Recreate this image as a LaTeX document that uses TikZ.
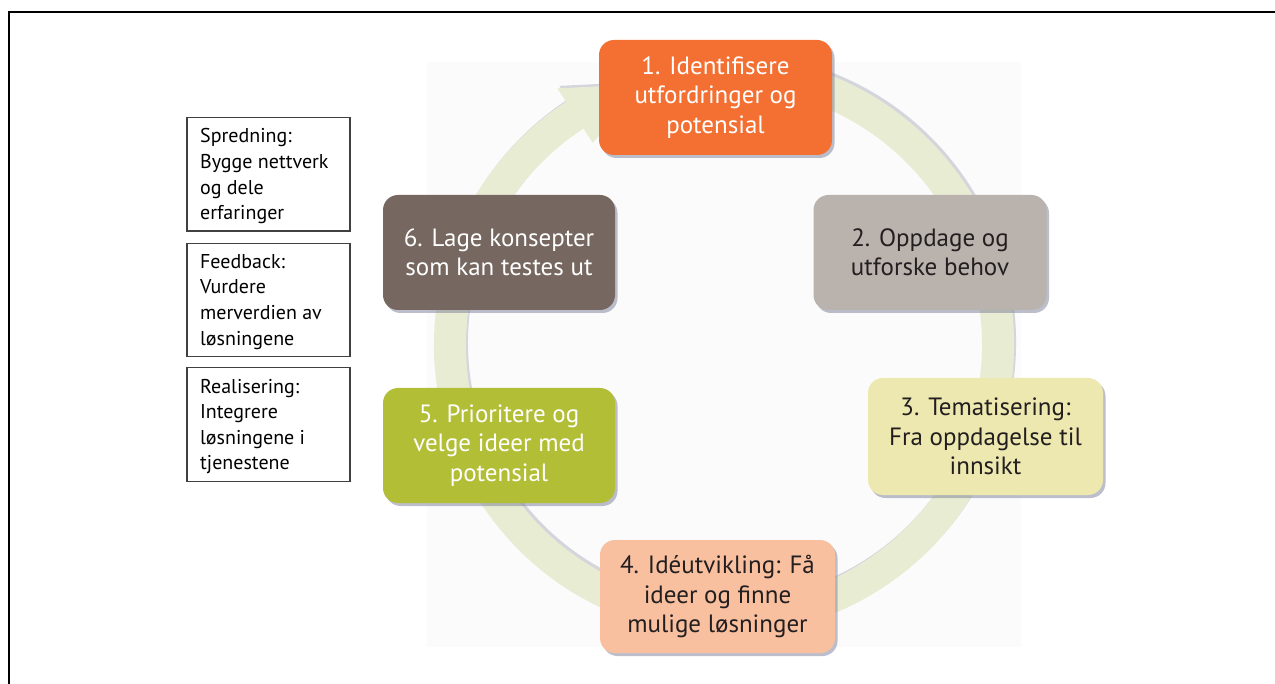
\documentclass[tikz,border=0pt]{standalone}
\usepackage{fontspec}
\setmainfont{PT Sans}
\usetikzlibrary{shadows}
\definecolor{cOne}{HTML}{F37032}
\definecolor{cTwo}{HTML}{BAB2AC}
\definecolor{cThree}{HTML}{EDE8AF}
\definecolor{cFour}{HTML}{F9C0A0}
\definecolor{cFive}{HTML}{B2BE35}
\definecolor{cSix}{HTML}{766860}
\definecolor{cRing}{HTML}{E8ECD2}
\definecolor{cShadow}{HTML}{7A8098}
\definecolor{cDark}{HTML}{231F20}
\definecolor{cBg}{HTML}{FBFBFB}
\newcommand\ringshape{(75:290) arc[start angle=75, end angle=-237, radius=290] -- (-237:306) -- (-252:274) -- (-237:241) -- (-237:258) arc[start angle=-237, end angle=75, radius=258] -- cycle}
\begin{document}
\begin{tikzpicture}[x=1pt,y=-1pt,
  stepbox/.style={rounded corners=15pt, minimum width=233pt, minimum height=115pt,
    align=center, inner sep=0pt, font=\fontsize{25}{29.5}\selectfont,
    drop shadow={shadow xshift=2.5pt, shadow yshift=-3pt, fill=cShadow, opacity=0.5}},
  sidebox/.style={draw=black!75, line width=1.1pt, minimum width=163pt, minimum height=113.5pt, inner sep=0pt},
  sidetext/.style={anchor=north west, align=left, inner sep=0pt, text=black, font=\fontsize{20}{25.6}\selectfont}]
\useasboundingbox (0,0) rectangle (1275,684);
\fill[white] (0,0) rectangle (1275,684);
% frame
\draw[line width=2.2pt] (1276,12) -- (9,12) -- (9,685);
% photo background
\fill[cBg] (427,62) rectangle (1021,647);
% ring arrow
\begin{scope}[shift={(724,345)}, yscale=-1]
  \fill[cShadow, opacity=0.3, xshift=2pt, yshift=-2.5pt] \ringshape;
  \fill[cRing] \ringshape;
\end{scope}
% steps
\node[stepbox, fill=cOne, text=white] (s1) at (715.5,97.5) {1. Identifisere\\utfordringer og\\potensial};
\node[stepbox, fill=cTwo, text=cDark] (s2) at (930,252.5) {2. Oppdage og\\utforske behov};
\node[stepbox, fill=cThree, text=cDark, minimum width=235pt, minimum height=117pt] (s3) at (985.5,436.5) {3. Tematisering:\\Fra oppdagelse til\\innsikt};
\node[stepbox, fill=cFour, text=cDark, minimum width=235pt, minimum height=113pt] (s4) at (717.5,596.5) {4. Idéutvikling: Få\\ideer og finne\\mulige løsninger};
\node[stepbox, fill=cFive, text=white, minimum width=232pt] (s5) at (499,445.5) {5. Prioritere og\\velge ideer med\\potensial};
\node[stepbox, fill=cSix, text=white, minimum width=232pt] (s6) at (499,252.5) {6. Lage konsepter\\som kan testes ut};
% side boxes
\node[sidebox] (a) at (268.5,174.3) {};
\node[sidebox] (b) at (268.5,300) {};
\node[sidebox] (c) at (268.5,424.5) {};
\node[sidetext] (at) at ([xshift=13.5pt,yshift=-11.5pt]a.north west) {Spredning:\\Bygge nettverk\\og dele\\erfaringer};
\node[sidetext] (bt) at ([xshift=13.5pt,yshift=-11.5pt]b.north west) {Feedback:\\Vurdere\\merverdien av\\løsningene};
\node[sidetext] (ct) at ([xshift=13.5pt,yshift=-11.5pt]c.north west) {Realisering:\\Integrere\\løsningene i\\tjenestene};
\end{tikzpicture}
\end{document}
